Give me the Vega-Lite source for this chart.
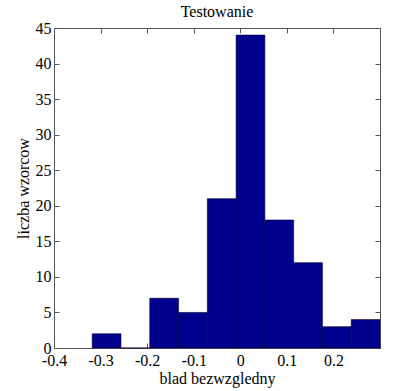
{
  "$schema": "https://vega.github.io/schema/vega-lite/v6.json",
  "width": 326,
  "height": 320,
  "autosize": {"type": "none"},
  "padding": {"left": 54, "top": 28, "right": 21, "bottom": 43},
  "background": "white",
  "title": {"text": "Testowanie", "font": "Liberation Serif", "fontSize": 16, "fontWeight": "normal", "color": "#000", "offset": 0},
  "data": {"values": [
    {"start": -0.318, "end": -0.2562, "count": 2},
    {"start": -0.2562, "end": -0.1944, "count": 0},
    {"start": -0.1944, "end": -0.1326, "count": 7},
    {"start": -0.1326, "end": -0.0708, "count": 5},
    {"start": -0.0708, "end": -0.009, "count": 21},
    {"start": -0.009, "end": 0.0528, "count": 44},
    {"start": 0.0528, "end": 0.1146, "count": 18},
    {"start": 0.1146, "end": 0.1764, "count": 12},
    {"start": 0.1764, "end": 0.2382, "count": 3},
    {"start": 0.2382, "end": 0.3, "count": 4}
  ]},
  "layer": [
    {
      "mark": {"type": "bar", "fill": "#00008F", "stroke": "#000033", "strokeWidth": 0.6},
      "encoding": {
        "x": {"field": "start", "type": "quantitative", "scale": {"domain": [-0.4, 0.3], "nice": false, "zero": false},
              "axis": {"title": "blad bezwzgledny", "values": [-0.4, -0.3, -0.2, -0.1, 0, 0.1, 0.2], "labelExpr": "datum.value < 0 ? '-' + format(-datum.value, '~g') : format(datum.value, '~g')", "grid": false, "tickSize": -5, "labelPadding": 9, "titlePadding": 2, "domainColor": "#555", "tickColor": "#555",
                       "labelFont": "Liberation Serif", "labelFontSize": 16, "labelColor": "#000", "titleFont": "Liberation Serif", "titleFontSize": 16, "titleFontWeight": "normal", "titleColor": "#000"}},
        "x2": {"field": "end"},
        "y": {"field": "count", "type": "quantitative", "scale": {"domain": [0, 45], "nice": false},
              "axis": {"title": "liczba wzorcow", "values": [0, 5, 10, 15, 20, 25, 30, 35, 40, 45], "grid": false, "tickSize": -5, "labelPadding": 8, "titlePadding": 4, "domainColor": "#555", "tickColor": "#555",
                       "labelFont": "Liberation Serif", "labelFontSize": 16, "labelColor": "#000", "titleFont": "Liberation Serif", "titleFontSize": 16, "titleFontWeight": "normal", "titleColor": "#000"}},
        "y2": {"datum": 0}
      }
    },
    {
      "mark": {"type": "bar", "fillOpacity": 0, "strokeOpacity": 0},
      "encoding": {
        "x": {"field": "start", "type": "quantitative", "scale": {"domain": [-0.4, 0.3], "nice": false, "zero": false},
              "axis": {"orient": "top", "title": null, "labels": false, "values": [-0.4, -0.3, -0.2, -0.1, 0, 0.1, 0.2], "grid": false, "tickSize": -5, "domainColor": "#555", "tickColor": "#555"}},
        "x2": {"field": "end"},
        "y": {"field": "count", "type": "quantitative", "scale": {"domain": [0, 45], "nice": false},
              "axis": {"orient": "right", "title": null, "labels": false, "values": [0, 5, 10, 15, 20, 25, 30, 35, 40, 45], "grid": false, "tickSize": -5, "domainColor": "#555", "tickColor": "#555"}},
        "y2": {"datum": 0}
      }
    }
  ],
  "resolve": {"axis": {"x": "independent", "y": "independent"}},
  "config": {
    "view": {"stroke": "#555"},
    "axis": {"labelFlush": false, "labelOverlap": false}
  }
}
